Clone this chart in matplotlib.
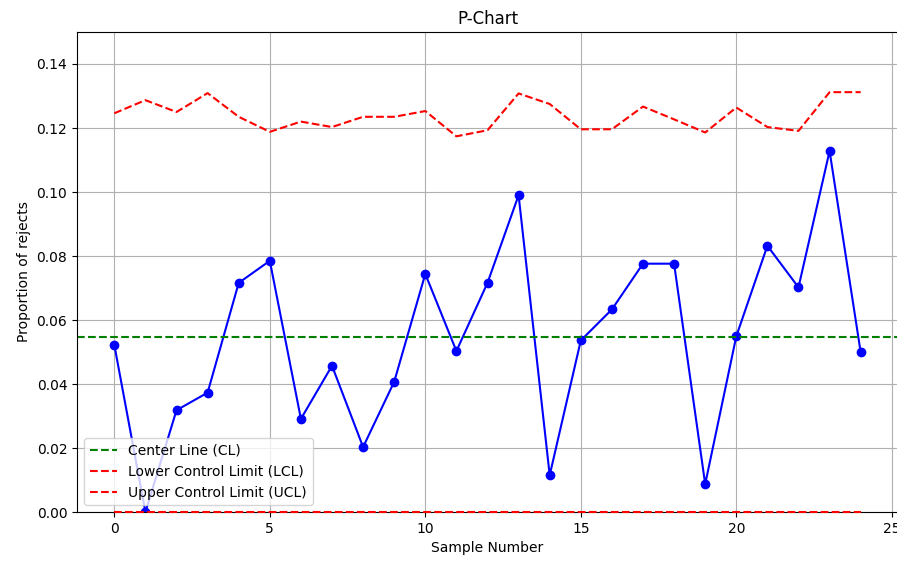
import numpy as np
import matplotlib
matplotlib.use("Agg")
import matplotlib.pyplot as plt

# Proportion of rejects per sample
samples = list(range(25))
proportions = [0.0522, 0.0000, 0.0318, 0.0373, 0.0716, 0.0785, 0.0291, 0.0457,
               0.0203, 0.0407, 0.0744, 0.0503, 0.0716, 0.0990, 0.0115, 0.0536,
               0.0633, 0.0776, 0.0776, 0.0087, 0.0549, 0.0832, 0.0702, 0.1128,
               0.0499]

# Control limits
center_line = 0.0547
lcl = [0.0] * 25
ucl = [0.1246, 0.1287, 0.1250, 0.1309, 0.1235, 0.1188, 0.1220, 0.1203,
       0.1235, 0.1235, 0.1253, 0.1174, 0.1193, 0.1308, 0.1275, 0.1196,
       0.1196, 0.1267, 0.1227, 0.1186, 0.1264, 0.1203, 0.1191, 0.1312,
       0.1312]

fig = plt.figure(figsize=(8.97, 5.61), dpi=100)
ax = fig.add_axes([77 / 897, 49 / 561, 821 / 897, 480 / 561])

ax.plot(samples, proportions, marker="o", color="b", linestyle="-")
ax.axhline(center_line, color="g", linestyle="--", label="Center Line (CL)")
ax.plot(samples, lcl, color="r", linestyle="--", label="Lower Control Limit (LCL)",
        clip_on=False, zorder=3)
ax.plot(samples, ucl, color="r", linestyle="--", label="Upper Control Limit (UCL)")

ax.set_title("P-Chart")
ax.set_xlabel("Sample Number")
ax.set_ylabel("Proportion of rejects")
ax.set_ylim(0, 0.15)
ax.legend(loc="lower left")
ax.grid(True)

fig.savefig("out.png", dpi=100)
